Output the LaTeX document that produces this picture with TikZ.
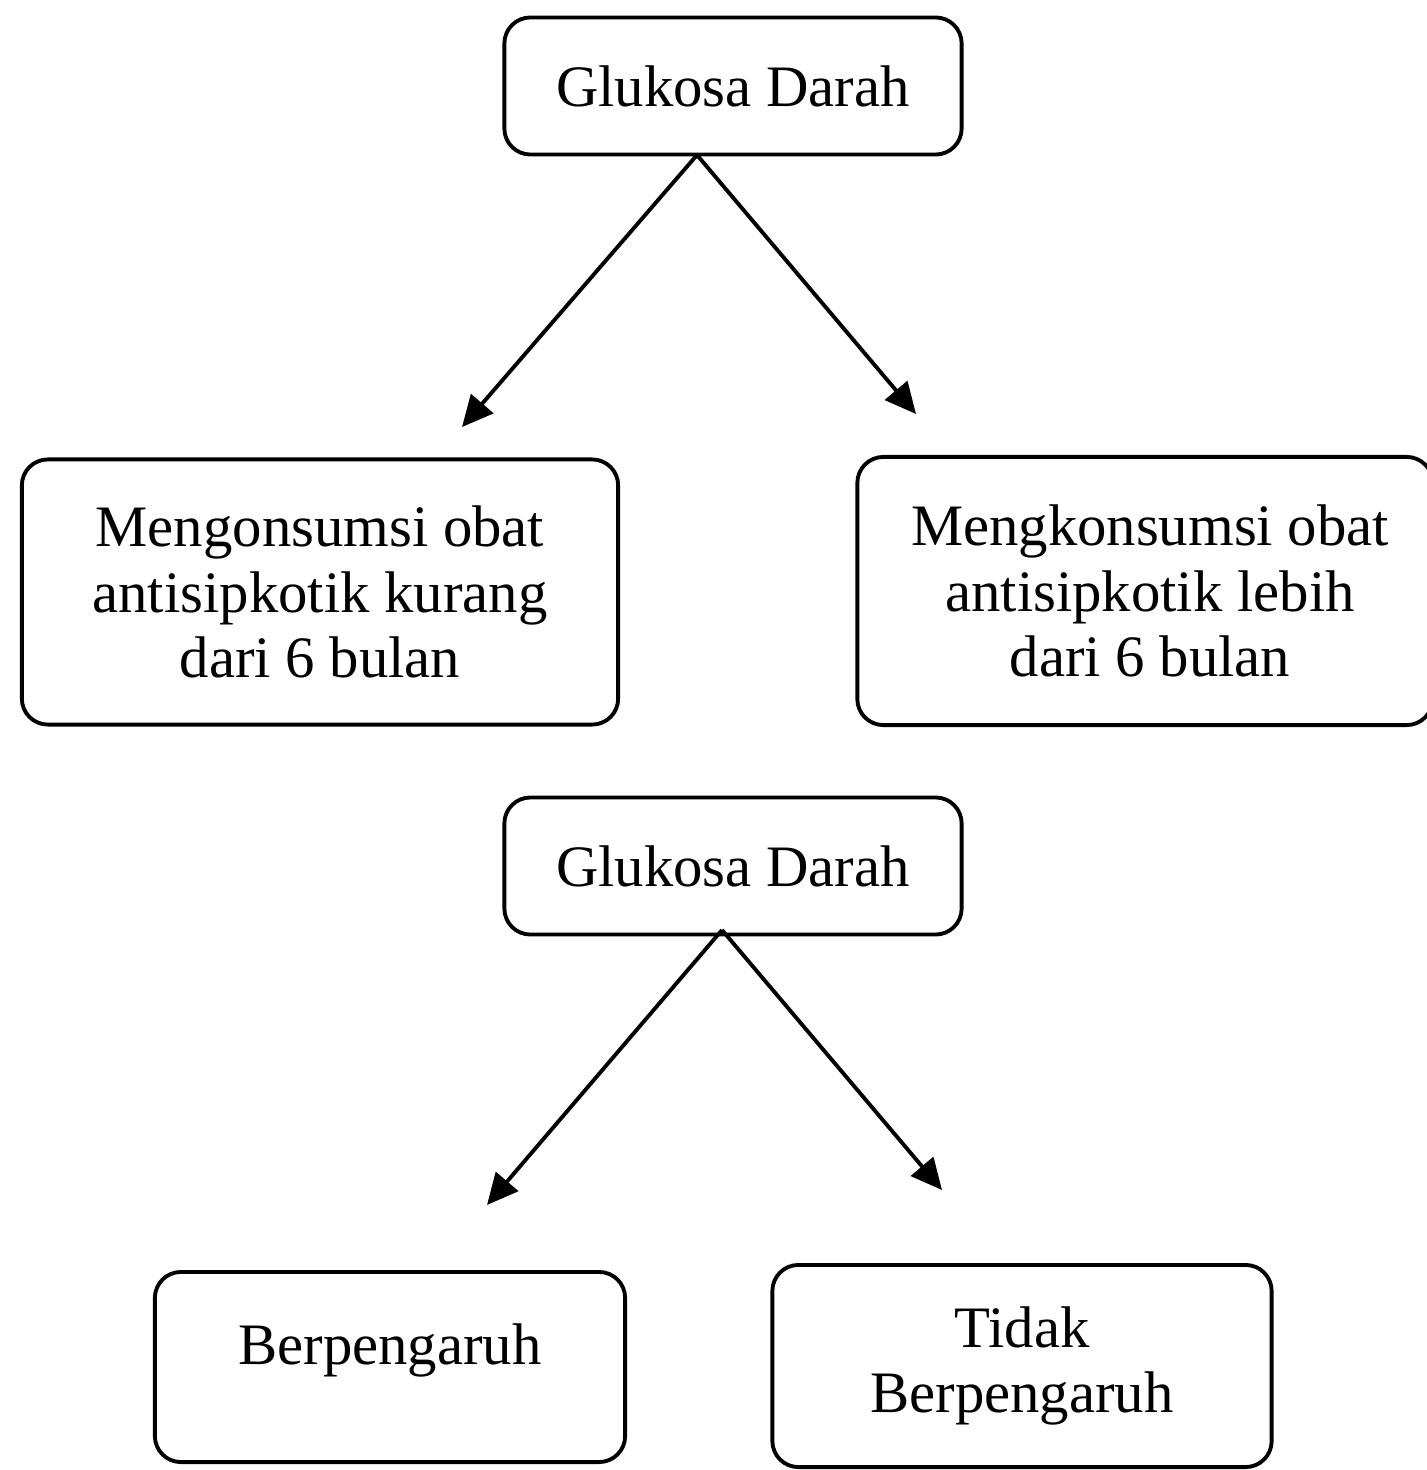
\documentclass[tikz,border=0pt]{standalone}
\usepackage{fontspec}
\setmainfont{Liberation Serif}
\usetikzlibrary{arrows.meta,positioning}
\tikzset{
  flow box/.style={draw=black,rounded corners=2.6mm,line width=1.1pt,
    align=center,inner sep=0pt,font=\fontsize{16.7}{18.6}\selectfont},
  flow edge/.style={-{Triangle[length=3.1mm,width=2.9mm]},line width=1.1pt}
}
\begin{document}
\begin{tikzpicture}[x=0.01cm,y=-0.01cm]
    \useasboundingbox (0,0) rectangle (1426,1470);
    % first tree
    \node[flow box,minimum width=4.57cm,minimum height=1.37cm] (glukosaone)
      at (733,86) {Glukosa Darah};
    \node[flow box,minimum width=5.96cm,minimum height=2.65cm] (kurang)
      at (320,592) {Mengonsumsi obat\\antisipkotik kurang\\dari 6 bulan};
    \node[flow box,minimum width=5.75cm,minimum height=2.68cm] (lebih)
      at (1145,591) {\hspace*{1mm}Mengkonsumsi obat\\\hspace*{1mm}antisipkotik lebih\\\hspace*{1mm}dari 6 bulan};
    \coordinate (forkone) at (697,155);
    \coordinate (kurangtip) at (462,427);
    \coordinate (lebihtip) at (916,414);
    \draw[flow edge] (forkone) -- (kurangtip);
    \draw[flow edge] (forkone) -- (lebihtip);
    % second tree
    \node[flow box,minimum width=4.57cm,minimum height=1.37cm] (glukosatwo)
      at (733,866) {Glukosa Darah};
    \node[flow box,minimum width=4.7cm,minimum height=1.9cm] (pengaruh)
      at (390,1367) {Berpengaruh\\[-2mm]\mbox{}};
    \node[flow box,minimum width=4.99cm,minimum height=2.02cm] (tidak)
      at (1022,1366) {Tidak\\Berpengaruh};
    \coordinate (forktwo) at (722,930);
    \coordinate (pengaruhtip) at (487,1205);
    \coordinate (tidaktip) at (942,1190);
    \draw[flow edge] (forktwo) -- (pengaruhtip);
    \draw[flow edge] (forktwo) -- (tidaktip);
\end{tikzpicture}
\end{document}
